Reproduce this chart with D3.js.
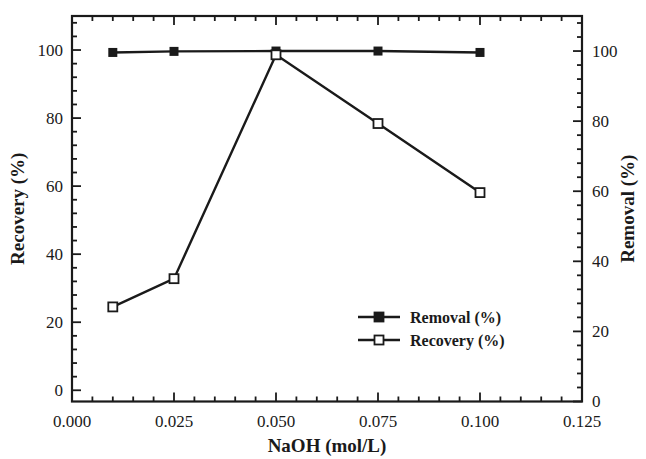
<!DOCTYPE html>
<html>
<head>
<meta charset="utf-8">
<script src="https://cdn.jsdelivr.net/npm/d3@7"></script>
<style>
  body { margin: 0; background: #fff; }
</style>
</head>
<body>
<div id="chart"></div>
<script>
const naoh = [0.010, 0.025, 0.050, 0.075, 0.100];
const removal = [99.6, 99.9, 100, 100, 99.6];   // right axis
const recovery = [24.5, 32.8, 98.6, 78.4, 58.1]; // left axis
const xTicks = [0, 0.025, 0.05, 0.075, 0.1, 0.125];
const yTicks = [0, 20, 40, 60, 80, 100];

const [width, height] = [646, 459];
const m = { left: 72, right: 64, top: 16, bottom: 57.5 };
const ink = "#1a1a1a";
const serif = "'Liberation Serif', 'DejaVu Serif', 'Times New Roman', Times, serif";

const svg = d3.select("#chart").append("svg")
  .attr("width", width)
  .attr("height", height)
  .attr("font-family", serif)
  .style("font-family", serif);

const x = d3.scaleLinear().domain([0, 0.125]).range([m.left, width - m.right]);
const yL = d3.scaleLinear().domain([-3.3, 110]).range([height - m.bottom, m.top]);
const yR = d3.scaleLinear().domain([0, 110]).range([height - m.bottom, m.top]);

const fmt = d3.format(".3f");
const x0 = m.left, x1 = width - m.right, y0 = height - m.bottom, y1 = m.top;

const xMinor = d3.range(0, 26).map(i => i * 0.005);
const yMinor = d3.range(0, 28).map(i => i * 4).filter(v => v <= 108);

// inward ticks, major every 0.025 / 20, minor between
function ticks(g, orient, scale, minors, majors, len, minorLen) {
  const isMajor = d => majors.some(v => Math.abs(v - d) < 1e-9);
  g.selectAll("line").data(minors).enter().append("line")
    .attr("stroke", ink).attr("stroke-width", 1.8)
    .each(function (d) {
      const l = isMajor(d) ? len : minorLen;
      const p = scale(d);
      const s = d3.select(this);
      if (orient === "bottom") s.attr("x1", p).attr("x2", p).attr("y1", y0).attr("y2", y0 - l);
      if (orient === "top") s.attr("x1", p).attr("x2", p).attr("y1", y1).attr("y2", y1 + l);
      if (orient === "left") s.attr("y1", p).attr("y2", p).attr("x1", x0).attr("x2", x0 + l);
      if (orient === "right") s.attr("y1", p).attr("y2", p).attr("x1", x1).attr("x2", x1 - l);
    });
}

ticks(svg.append("g"), "bottom", x, xMinor, xTicks, 9, 5);
ticks(svg.append("g"), "top", x, xMinor, xTicks, 9, 5);
ticks(svg.append("g"), "left", yL, yMinor, yTicks, 9, 5);
ticks(svg.append("g"), "right", yR, yMinor, yTicks, 9, 5);

// frame
svg.append("rect")
  .attr("x", x0).attr("y", y1)
  .attr("width", x1 - x0).attr("height", y0 - y1)
  .attr("fill", "none").attr("stroke", ink).attr("stroke-width", 2.2);

// tick labels
svg.append("g").selectAll("text").data(xTicks).enter().append("text")
  .attr("x", d => x(d)).attr("y", y0 + 25)
  .attr("text-anchor", "middle").attr("font-size", 17).attr("fill", ink)
  .text(d => fmt(d));

svg.append("g").selectAll("text").data(yTicks).enter().append("text")
  .attr("x", x0 - 9).attr("y", d => yL(d)).attr("dy", "0.35em")
  .attr("text-anchor", "end").attr("font-size", 17).attr("fill", ink)
  .text(d => d);

svg.append("g").selectAll("text").data(yTicks).enter().append("text")
  .attr("x", x1 + 10).attr("y", d => yR(d)).attr("dy", "0.35em")
  .attr("text-anchor", "start").attr("font-size", 17).attr("fill", ink)
  .text(d => d);

// axis titles
svg.append("text")
  .attr("x", (x0 + x1) / 2).attr("y", height - 7)
  .attr("text-anchor", "middle").attr("font-size", 19).attr("font-weight", "bold").attr("fill", ink)
  .text("NaOH (mol/L)");

svg.append("text")
  .attr("transform", `translate(24,${(y0 + y1) / 2}) rotate(-90)`)
  .attr("text-anchor", "middle").attr("font-size", 19).attr("font-weight", "bold").attr("fill", ink)
  .text("Recovery (%)");

svg.append("text")
  .attr("transform", `translate(634,${(y0 + y1) / 2}) rotate(-90)`)
  .attr("text-anchor", "middle").attr("font-size", 19).attr("font-weight", "bold").attr("fill", ink)
  .text("Removal (%)");

// series
const lineR = d3.line().x((d, i) => x(naoh[i])).y(d => yR(d));
const lineL = d3.line().x((d, i) => x(naoh[i])).y(d => yL(d));
const ms = 9;

svg.append("path").datum(recovery).attr("d", lineL)
  .attr("fill", "none").attr("stroke", ink).attr("stroke-width", 2.4);
svg.append("path").datum(removal).attr("d", lineR)
  .attr("fill", "none").attr("stroke", ink).attr("stroke-width", 2.4);

svg.append("g").selectAll("rect").data(removal).enter().append("rect")
  .attr("x", (d, i) => x(naoh[i]) - ms / 2).attr("y", d => yR(d) - ms / 2)
  .attr("width", ms).attr("height", ms).attr("fill", ink);

svg.append("g").selectAll("rect").data(recovery).enter().append("rect")
  .attr("x", (d, i) => x(naoh[i]) - ms / 2).attr("y", d => yL(d) - ms / 2)
  .attr("width", ms).attr("height", ms)
  .attr("fill", "#fff").attr("stroke", ink).attr("stroke-width", 1.8);

// legend
const legendItems = [
  { label: "Removal (%)", fill: ink },
  { label: "Recovery (%)", fill: "#fff" }
];
const lg = svg.append("g").attr("transform", "translate(358,317)");
legendItems.forEach((d, i) => {
  const g = lg.append("g").attr("transform", `translate(0,${i * 23})`);
  g.append("line").attr("x1", 0).attr("x2", 42).attr("stroke", ink).attr("stroke-width", 2.4);
  g.append("rect").attr("x", 21 - ms / 2).attr("y", -ms / 2).attr("width", ms).attr("height", ms)
    .attr("fill", d.fill).attr("stroke", ink).attr("stroke-width", 1.8);
  g.append("text").attr("x", 52).attr("dy", "0.35em").attr("fill", ink)
    .attr("font-size", 16).attr("font-weight", "bold").text(d.label);
});
</script>
</body>
</html>
